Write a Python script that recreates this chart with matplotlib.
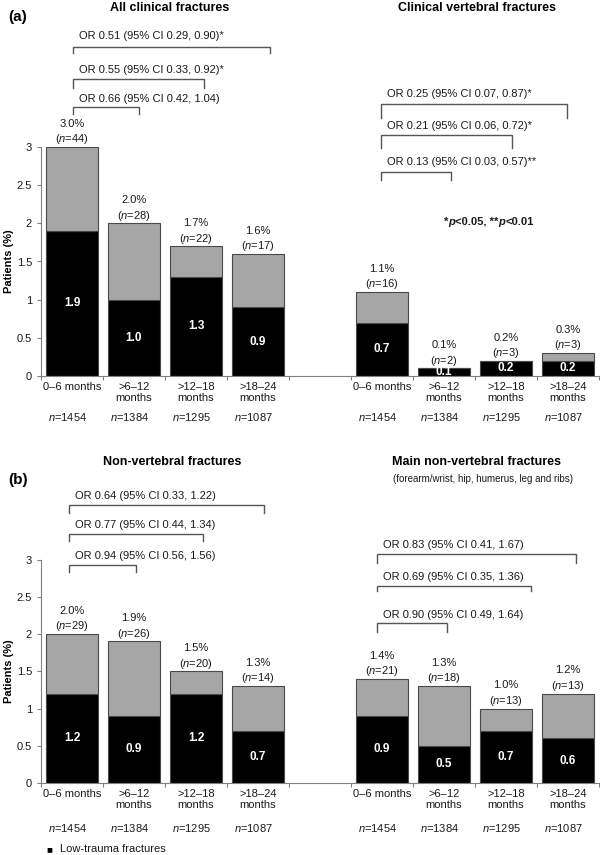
import matplotlib
matplotlib.use("Agg")
import matplotlib.pyplot as plt
from matplotlib.ticker import FuncFormatter, FixedLocator
import numpy as np

plt.rcParams['font.family'] = ['Liberation Sans', 'DejaVu Sans']
plt.rcParams['mathtext.fontset'] = 'custom'
plt.rcParams['mathtext.rm'] = 'Liberation Sans'
plt.rcParams['mathtext.it'] = 'Liberation Sans:italic'
plt.rcParams['mathtext.bf'] = 'Liberation Sans:bold'

# data
periods = ["0\u20136 months", ">6\u201312\nmonths", ">12\u201318\nmonths", ">18\u201324\nmonths"]
n_pts = [1454, 1384, 1295, 1087]

# panel (a)
all_total = [3.0, 2.0, 1.7, 1.6]
all_low = [1.9, 1.0, 1.3, 0.9]
all_n = [44, 28, 22, 17]
all_or = ["OR 0.66 (95% CI 0.42, 1.04)", "OR 0.55 (95% CI 0.33, 0.92)*", "OR 0.51 (95% CI 0.29, 0.90)*"]

vert_total = [1.1, 0.1, 0.2, 0.3]
vert_low = [0.7, 0.1, 0.2, 0.2]
vert_n = [16, 2, 3, 3]
vert_or = ["OR 0.13 (95% CI 0.03, 0.57)**", "OR 0.21 (95% CI 0.06, 0.72)*", "OR 0.25 (95% CI 0.07, 0.87)*"]

# panel (b)
nonv_total = [2.0, 1.9, 1.5, 1.3]
nonv_low = [1.2, 0.9, 1.2, 0.7]
nonv_n = [29, 26, 20, 14]
nonv_or = ["OR 0.94 (95% CI 0.56, 1.56)", "OR 0.77 (95% CI 0.44, 1.34)", "OR 0.64 (95% CI 0.33, 1.22)"]

main_total = [1.4, 1.3, 1.0, 1.2]
main_low = [0.9, 0.5, 0.7, 0.6]
main_n = [21, 18, 13, 13]
main_or = ["OR 0.90 (95% CI 0.49, 1.64)", "OR 0.69 (95% CI 0.35, 1.36)", "OR 0.83 (95% CI 0.41, 1.67)"]

GRAY = '#a6a6a6'
EDGE = '#4a4a4a'
LINE = '#555555'
TXT = '#1a1a1a'

fig = plt.figure(figsize=(6, 8.55), dpi=100)

def px(x, y):
    return x / 600, 1 - y / 855

# bracket layouts: (start x, end x, line level, leg bottom, text level)
br_a_left = [(0.02, 1.08, 3.53, 3.43, 3.63), (0.02, 2.13, 3.89, 3.77, 4.01), (0.02, 3.19, 4.31, 4.23, 4.46)]
br_a_right = [(4.98, 6.11, 2.67, 2.57, 2.80), (4.98, 7.10, 3.16, 2.99, 3.28), (4.98, 7.98, 3.56, 3.38, 3.70)]
br_b_left = [(-0.05, 1.03, 2.93, 2.83, 3.05), (-0.05, 2.11, 3.34, 3.25, 3.46), (-0.05, 3.10, 3.73, 3.62, 3.85)]
br_b_right = [(4.92, 6.05, 2.15, 2.03, 2.26), (4.92, 7.40, 2.64, 2.58, 2.77), (4.92, 8.13, 3.07, 2.95, 3.19)]


def draw_panel(ax, groups, brackets, n_off):
    ax.set_xlim(-0.5, 8.5)
    ax.set_ylim(0, 3)
    for (pos, total, low, ncount, ors), brs in zip(groups, brackets):
        pos = np.array(pos)
        total = np.array(total)
        low = np.array(low)
        ax.bar(pos, low, width=0.83, color='black', edgecolor=EDGE, linewidth=0.8, zorder=2)
        ax.bar(pos, total - low, bottom=low, width=0.83, color=GRAY, edgecolor=EDGE,
               linewidth=0.8, zorder=2)
        for x, t, l, nn in zip(pos, total, low, ncount):
            ax.annotate("%.1f%%\n($\\it{n}$=%d)" % (t, nn), (x, t), xytext=(0, 0.5),
                        textcoords='offset points', ha='center', va='bottom',
                        fontsize=8, color=TXT, linespacing=1.35)
            ax.text(x, l / 2, "%.1f" % l, ha='center', va='center', color='white',
                    fontsize=8.5, fontweight='bold', zorder=3)
        for i, (x, cat, nn) in enumerate(zip(pos, periods, n_pts)):
            ax.annotate(cat, (x, 0), xytext=(0, -4), textcoords='offset points',
                        ha='center', va='top', fontsize=8, color=TXT, linespacing=1.15)
            ax.annotate("$\\it{n}$=%d" % nn, (x - 0.07, 0), xytext=(0, n_off),
                        textcoords='offset points', ha='center', va='top',
                        fontsize=8, color=TXT)
        for (x0, x1, yl, yb, yt), s in zip(brs, ors):
            ax.plot([x0, x0, x1, x1], [yb, yl, yl, yb], color=LINE, lw=1.0,
                    clip_on=False, solid_joinstyle='miter')
            ax.text(x0 + 0.1, yt, s, ha='left', va='center', fontsize=8, color=TXT)

    for sp in ['top', 'right']:
        ax.spines[sp].set_visible(False)
    for sp in ['left', 'bottom']:
        ax.spines[sp].set_color('#808080')
        ax.spines[sp].set_linewidth(0.8)
    ax.set_yticks([0, 0.5, 1, 1.5, 2, 2.5, 3])
    ax.yaxis.set_major_formatter(FuncFormatter(lambda v, p: "%g" % v))
    ax.xaxis.set_major_locator(FixedLocator(np.arange(-0.5, 9, 1)))
    ax.set_xticklabels([])
    ax.tick_params(axis='both', direction='out', length=3, width=0.8, color='#808080',
                   labelsize=8, labelcolor=TXT)
    ax.set_ylabel("Patients (%)", fontsize=8, fontweight='bold', labelpad=2)


pos_left = [0, 1, 2, 3]
pos_right = [5, 6, 7, 8]

ax_a = fig.add_axes([41 / 600, 479 / 855, 558 / 600, 229 / 855])
draw_panel(ax_a,
           [(pos_left, all_total, all_low, all_n, all_or),
            (pos_right, vert_total, vert_low, vert_n, vert_or)],
           [br_a_left, br_a_right], -25)

ax_b = fig.add_axes([41 / 600, 72 / 855, 558 / 600, 223.5 / 855])
draw_panel(ax_b,
           [(pos_left, nonv_total, nonv_low, nonv_n, nonv_or),
            (pos_right, main_total, main_low, main_n, main_or)],
           [br_b_left, br_b_right], -28)

# significance note (bold, italic p)
t1 = ax_a.text(6.0, 2.02, "*", ha='left', va='center', fontsize=8, fontweight='bold', color=TXT)
t2 = ax_a.annotate("p", xy=(1, 0), xycoords=t1, va='bottom', fontsize=8,
                   fontweight='bold', fontstyle='italic', color=TXT)
t3 = ax_a.annotate("<0.05, **", xy=(1, 0), xycoords=t2, va='bottom', fontsize=8,
                   fontweight='bold', color=TXT)
t4 = ax_a.annotate("p", xy=(1, 0), xycoords=t3, va='bottom', fontsize=8,
                   fontweight='bold', fontstyle='italic', color=TXT)
ax_a.annotate("<0.01", xy=(1, 0), xycoords=t4, va='bottom', fontsize=8,
              fontweight='bold', color=TXT)

# titles
fig.text(*px(8, 17), "(a)", fontsize=11, fontweight='bold', ha='left', va='center')
fig.text(*px(8, 480), "(b)", fontsize=11, fontweight='bold', ha='left', va='center')
fig.text(*px(170, 8), "All clinical fractures", fontsize=9, fontweight='bold', ha='center', va='center')
fig.text(*px(477, 8), "Clinical vertebral fractures", fontsize=9, fontweight='bold', ha='center', va='center')
fig.text(*px(172, 462), "Non-vertebral fractures", fontsize=9, fontweight='bold', ha='center', va='center')
fig.text(*px(477, 462), "Main non-vertebral fractures", fontsize=9, fontweight='bold', ha='center', va='center')
fig.text(*px(483, 479), "(forearm/wrist, hip, humerus, leg and ribs)", fontsize=7, ha='center', va='center', color=TXT)

# legend
fig.text(*px(46, 849), "\u25a0", fontsize=7, ha='left', va='center', color='black')
fig.text(*px(60, 849), "Low-trauma fractures", fontsize=8, ha='left', va='center', color=TXT)

fig.savefig("out.png", dpi=100)
